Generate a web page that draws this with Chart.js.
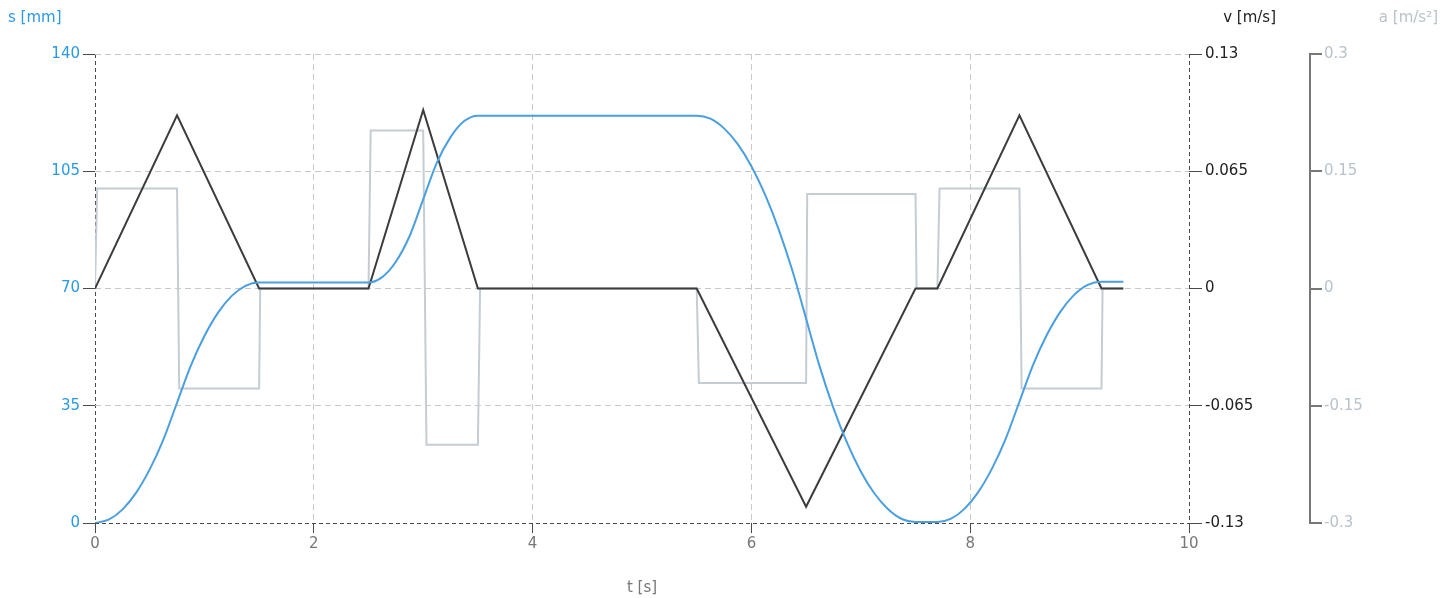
<!DOCTYPE html>
<html>
<head>
<meta charset="utf-8">
<script src="https://cdn.jsdelivr.net/npm/chart.js@4/dist/chart.umd.min.js"></script>
<style>
  body { margin: 0; background: #fff; }
</style>
</head>
<body>
<canvas id="grafico" width="1449" height="598"></canvas>
<script>
// position s [mm]
const sTime = [0, 0.125, 0.25, 0.375, 0.5, 0.625, 0.75, 0.875, 1.0, 1.125, 1.25, 1.375, 1.5,
    2.5, 2.625, 2.75, 2.875, 3.0, 3.125, 3.25, 3.375, 3.5,
    5.5, 5.625, 5.75, 5.875, 6.0, 6.125, 6.25, 6.375, 6.5, 6.625, 6.75, 6.875, 7.0, 7.125, 7.25, 7.375, 7.5,
    7.7, 7.825, 7.95, 8.075, 8.2, 8.325, 8.45, 8.575, 8.7, 8.825, 8.95, 9.075, 9.2, 9.4];
const sValues = [0, 1.0, 4.0, 9.0, 16.0, 24.9, 35.9, 46.9, 55.8, 62.8, 67.8, 70.8, 71.8,
    71.8, 73.4, 78.0, 85.6, 96.6, 107.6, 115.2, 120.0, 121.6,
    121.6, 120.7, 117.8, 113.1, 106.5, 98.0, 87.6, 75.3, 61.0, 46.6, 34.3, 23.9, 15.4, 8.8, 4.1, 1.2, 0.3,
    0.3, 1.3, 4.3, 9.3, 16.3, 25.2, 36.2, 47.2, 56.1, 63.1, 68.1, 71.1, 72.0, 72.0];

// velocity v [m/s]
const vTime = [0, 0.75, 1.5, 2.5, 3.0, 3.5, 5.5, 6.5, 7.5, 7.7, 8.45, 9.2, 9.4];
const vValues = [0, 0.096, 0, 0, 0.099, 0, 0, -0.121, 0, 0, 0.096, 0, 0];

// acceleration a [m/s²]
const aTime = [0, 0.02, 0.75, 0.77, 1.5, 1.51, 2.5, 2.52, 3.0, 3.03, 3.5, 3.52, 5.5, 5.52,
    6.5, 6.51, 7.5, 7.51, 7.7, 7.72, 8.45, 8.47, 9.2, 9.21, 9.4];
const aValues = [0, 0.128, 0.128, -0.128, -0.128, 0, 0, 0.202, 0.202, -0.2, -0.2, 0, 0, -0.121,
    -0.121, 0.121, 0.121, 0, 0, 0.128, 0.128, -0.128, -0.128, 0, 0];

// tick labels
const tTicks = [0, 2, 4, 6, 8, 10];
const sTicks = [0, 35, 70, 105, 140];
const vTicks = [-0.13, -0.065, 0, 0.065, 0.13];
const aTicks = [-0.3, -0.15, 0, 0.15, 0.3];

const azul = '#2a9ae6';
const gris = '#b9c3cc';
const oscuro = '#4a4a4a';
const rejilla = '#c8c8c8';
const fuente = { family: '"DejaVu Sans", sans-serif', size: 15 };

const puntos = (xs, ys) => xs.map((x, i) => ({ x: x, y: ys[i] }));
const fijarTicks = lista => scale => { scale.ticks = lista.map(v => ({ value: v })); };
const etiqueta = v => String(v);

const titulos = {
    id: 'titulos',
    afterDraw(chart) {
        const { ctx, chartArea, scales } = chart;
        ctx.save();
        ctx.font = '15px "DejaVu Sans", sans-serif';
        ctx.textBaseline = 'middle';
        ctx.textAlign = 'left';
        ctx.fillStyle = azul;
        ctx.fillText('s [mm]', 8, 18);
        ctx.textAlign = 'right';
        ctx.fillStyle = '#222';
        ctx.fillText('v [m/s]', scales.v.right - 34, 18);
        ctx.fillStyle = gris;
        ctx.fillText('a [m/s²]', scales.a.right - 11, 18);
        ctx.textAlign = 'center';
        ctx.fillStyle = '#777';
        ctx.fillText('t [s]', (chartArea.left + chartArea.right) / 2, 588);
        ctx.restore();
    }
};

const ctx = document.getElementById('grafico').getContext('2d');
new Chart(ctx, {
    type: 'line',
    data: {
        datasets: [{
            label: 's',
            data: puntos(sTime, sValues),
            yAxisID: 's',
            borderColor: '#4a9fe0',
            borderWidth: 2,
            cubicInterpolationMode: 'monotone',
            pointRadius: 0
        }, {
            label: 'v',
            data: puntos(vTime, vValues),
            yAxisID: 'v',
            borderColor: '#3c3c3c',
            borderWidth: 2,
            tension: 0,
            pointRadius: 0
        }, {
            label: 'a',
            data: puntos(aTime, aValues),
            yAxisID: 'a',
            borderColor: '#c4ccd4',
            borderWidth: 2,
            tension: 0,
            pointRadius: 0
        }]
    },
    options: {
        responsive: false,
        animation: false,
        layout: { padding: { top: 54, left: 0, right: 0, bottom: 0 } },
        plugins: { legend: { display: false }, tooltip: { enabled: false } },
        scales: {
            x: {
                type: 'linear',
                min: 0,
                max: 10,
                afterBuildTicks: fijarTicks(tTicks),
                afterFit: scale => { scale.height = 75; },
                grid: {
                    color: c => (c.tick && (c.tick.value === 0 || c.tick.value === 10)) ? oscuro : rejilla,
                    tickColor: oscuro,
                    tickLength: 10
                },
                border: {
                    display: false,
                    dash: c => (c.tick && (c.tick.value === 0 || c.tick.value === 10)) ? [4, 3] : [6, 4]
                },
                ticks: { color: '#777', font: fuente, padding: 2, maxRotation: 0, callback: etiqueta }
            },
            s: {
                position: 'left',
                min: 0,
                max: 140,
                afterBuildTicks: fijarTicks(sTicks),
                afterFit: scale => { scale.width = 95; },
                grid: {
                    color: c => (c.tick && c.tick.value === 0) ? oscuro : rejilla,
                    tickColor: oscuro,
                    tickLength: 12
                },
                border: {
                    display: false,
                    dash: c => (c.tick && c.tick.value === 0) ? [4, 3] : [6, 4]
                },
                ticks: { color: azul, font: fuente, padding: 3, callback: etiqueta }
            },
            v: {
                position: 'right',
                weight: 0,
                min: -0.13,
                max: 0.13,
                afterBuildTicks: fijarTicks(vTicks),
                afterFit: scale => { scale.width = 121; },
                grid: { drawOnChartArea: false, tickColor: oscuro, tickLength: 13 },
                border: { display: false },
                ticks: { color: '#222', font: fuente, padding: 3, callback: etiqueta }
            },
            a: {
                position: 'right',
                weight: 1,
                min: -0.3,
                max: 0.3,
                afterBuildTicks: fijarTicks(aTicks),
                afterFit: scale => { scale.width = 139; },
                grid: { drawOnChartArea: false, tickColor: '#777', tickLength: 12, lineWidth: 2 },
                border: { display: true, color: '#777', width: 2 },
                ticks: { color: gris, font: fuente, padding: 2, callback: etiqueta }
            }
        }
    },
    plugins: [titulos]
});
</script>
</body>
</html>
